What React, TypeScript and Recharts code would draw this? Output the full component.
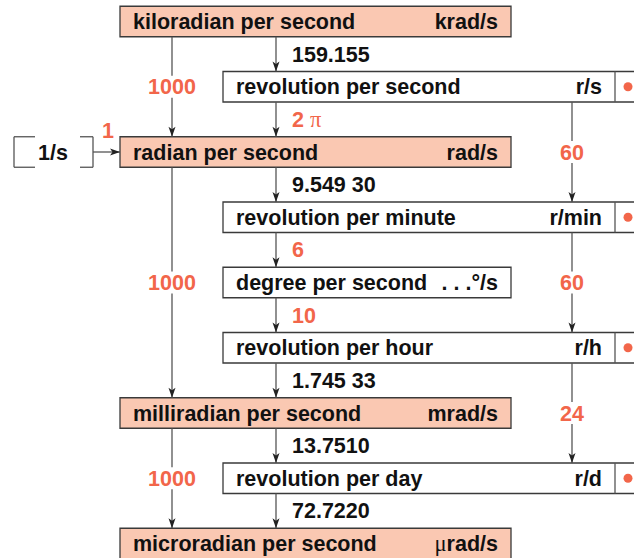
import { ComposedChart, XAxis, YAxis, ReferenceArea, ReferenceLine, Scatter } from "recharts";

// units, top to bottom
const unitNames = [
  "kiloradian per second",
  "revolution per second",
  "radian per second",
  "revolution per minute",
  "degree per second",
  "revolution per hour",
  "milliradian per second",
  "revolution per day",
  "microradian per second",
];
const unitSymbols = ["krad/s", "r/s", "rad/s", "r/min", ". . .°/s", "r/h", "mrad/s", "r/d", "μrad/s"];
const unitKinds = ["si", "rev", "si", "rev", "deg", "rev", "si", "rev", "si"];

// factors between neighbouring rows (middle lane); exact ones are orange
const chainFactors = ["159.155", "2 π", "9.549 30", "6", "10", "1.745 33", "13.7510", "72.7220"];
const chainExact = [false, true, false, true, true, false, false, false];

// long jumps
const siSteps = [
  { from: 0, to: 2, factor: "1000" },
  { from: 2, to: 6, factor: "1000" },
  { from: 6, to: 8, factor: "1000" },
];
const revSteps = [
  { from: 1, to: 3, factor: "60" },
  { from: 3, to: 5, factor: "60" },
  { from: 5, to: 7, factor: "24" },
];

// layout
const W = 634;
const H = 558;
const ROW_TOP = 21.5;
const ROW_STEP = 65.25;
const HALF = 15.25 / ROW_STEP;
const GAP = 11 / ROW_STEP;
const BOX_X: Record<string, [number, number]> = { si: [120, 511], rev: [223, 660], deg: [223, 511] };
const UNIT_END: Record<string, number> = { si: 498, rev: 602, deg: 498 };
const LANE_SI = 172;
const LANE_CHAIN = 276;
const LANE_REV = 572;
const DIVIDER_X = 615;
const DOT_X = 628;

const ORANGE = "#f2664a";
const INK = "#111";
const LINE = "#555";
const FILL = "#fac8b2";
const FONT = "'Liberation Sans', Arial, Helvetica, sans-serif";
const FONT_SIZE = 21.5;

type Seg = { x1: number; y1: number; x2: number; y2: number };
type Txt = { x: number; y: number; text: string; color: string; anchor: string };
type Arrow = { x: number; y: number; dir: string };

const segs: Seg[] = [];
const texts: Txt[] = [];
const arrows: Arrow[] = [];

unitNames.forEach((name, i) => {
  const k = unitKinds[i];
  texts.push({ x: BOX_X[k][0] + 13, y: i, text: name, color: INK, anchor: "start" });
  texts.push({ x: UNIT_END[k], y: i, text: unitSymbols[i], color: INK, anchor: "end" });
  if (k === "rev") segs.push({ x1: DIVIDER_X, y1: i - HALF, x2: DIVIDER_X, y2: i + HALF });
});

chainFactors.forEach((f, i) => {
  segs.push({ x1: LANE_CHAIN, y1: i + HALF, x2: LANE_CHAIN, y2: i + 1 - HALF });
  arrows.push({ x: LANE_CHAIN, y: i + 1 - HALF, dir: "down" });
  texts.push({ x: 292, y: i + 0.5, text: f, color: chainExact[i] ? ORANGE : INK, anchor: "start" });
});

const addJump = (lane: number) => (s: { from: number; to: number; factor: string }) => {
  const mid = (s.from + s.to) / 2;
  segs.push({ x1: lane, y1: s.from + HALF, x2: lane, y2: mid - GAP });
  segs.push({ x1: lane, y1: mid + GAP, x2: lane, y2: s.to - HALF });
  arrows.push({ x: lane, y: s.to - HALF, dir: "down" });
  texts.push({ x: lane, y: mid, text: s.factor, color: ORANGE, anchor: "middle" });
};
siSteps.forEach(addJump(LANE_SI));
revSteps.forEach(addJump(LANE_REV));

// the 1/s bracket feeding rad/s
const B = 2;
segs.push({ x1: 14, y1: B - HALF, x2: 14, y2: B + HALF });
segs.push({ x1: 14, y1: B - HALF, x2: 35, y2: B - HALF });
segs.push({ x1: 14, y1: B + HALF, x2: 35, y2: B + HALF });
segs.push({ x1: 93, y1: B - HALF, x2: 93, y2: B + HALF });
segs.push({ x1: 80, y1: B - HALF, x2: 93, y2: B - HALF });
segs.push({ x1: 80, y1: B + HALF, x2: 93, y2: B + HALF });
segs.push({ x1: 93, y1: B, x2: 120, y2: B });
arrows.push({ x: 120, y: B, dir: "right" });
texts.push({ x: 53, y: B, text: "1/s", color: INK, anchor: "middle" });
texts.push({ x: 108, y: B - 22 / ROW_STEP, text: "1", color: ORANGE, anchor: "middle" });

const dots = unitKinds.map((k, i) => ({ k, x: DOT_X, y: i })).filter((d) => d.k === "rev");

const rich = (t: string) =>
  t.split(/([πμ])/).map((part, j) =>
    part === "π" || part === "μ" ? (
      <tspan key={j} fontFamily="'Liberation Serif', 'DejaVu Serif', serif" fontWeight="normal" fontSize={FONT_SIZE + 1}>
        {part}
      </tspan>
    ) : (
      <tspan key={j}>{part}</tspan>
    )
  );

const TextShape = (p: any) => {
  const { cx, cy, payload } = p;
  return (
    <text
      x={cx}
      y={cy + 7.6}
      textAnchor={payload.anchor}
      fill={payload.color}
      fontFamily={FONT}
      fontWeight="bold"
      fontSize={FONT_SIZE}
    >
      {rich(payload.text)}
    </text>
  );
};

const ArrowShape = (p: any) => {
  const { cx, cy, payload } = p;
  const d =
    payload.dir === "right"
      ? `M${cx},${cy} L${cx - 10},${cy - 3.5} L${cx - 7.5},${cy} L${cx - 10},${cy + 3.5} Z`
      : `M${cx},${cy} L${cx - 3.5},${cy - 10} L${cx},${cy - 7.5} L${cx + 3.5},${cy - 10} Z`;
  return <path d={d} fill="#222" />;
};

const DotShape = (p: any) => <circle cx={p.cx} cy={p.cy} r={4.5} fill={ORANGE} />;

export default function App() {
  return (
    <div style={{ position: "absolute", left: 0, top: 0, width: W, height: H, background: "#fff" }}>
      <ComposedChart width={W} height={H} margin={{ top: 0, right: 0, bottom: 0, left: 0 }}>
        <XAxis type="number" dataKey="x" domain={[0, W]} allowDataOverflow hide />
        <YAxis
          type="number"
          dataKey="y"
          domain={[-ROW_TOP / ROW_STEP, (H - ROW_TOP) / ROW_STEP]}
          allowDataOverflow
          reversed
          hide
        />
        {unitKinds.map((k, i) => (
          <ReferenceArea
            key={`box${i}`}
            x1={BOX_X[k][0]}
            x2={BOX_X[k][1]}
            y1={i - HALF}
            y2={i + HALF}
            ifOverflow="hidden"
            fill={k === "si" ? FILL : "#fff"}
            fillOpacity={1}
            stroke="#3a3a3a"
            strokeWidth={1.3}
          />
        ))}
        {segs.map((s, i) => (
          <ReferenceLine
            key={`seg${i}`}
            segment={[
              { x: s.x1, y: s.y1 },
              { x: s.x2, y: s.y2 },
            ]}
            ifOverflow="visible"
            stroke={LINE}
            strokeWidth={1.3}
          />
        ))}
        <Scatter data={arrows} shape={ArrowShape} isAnimationActive={false} />
        <Scatter data={dots} shape={DotShape} isAnimationActive={false} />
        <Scatter data={texts} shape={TextShape} isAnimationActive={false} />
      </ComposedChart>
    </div>
  );
}
